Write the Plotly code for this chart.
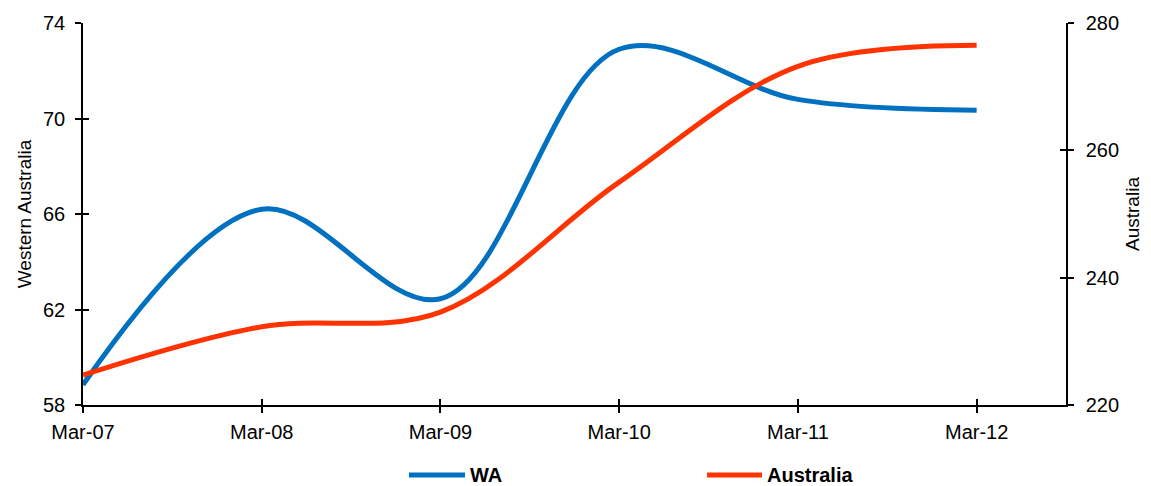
import plotly.graph_objects as go

categories = ["Mar-07", "Mar-08", "Mar-09", "Mar-10", "Mar-11", "Mar-12"]
wa_values = [58.85, 66.2, 62.45, 72.9, 70.8, 70.35]
aus_values = [224.7, 232.3, 234.6, 255.0, 273.2, 276.5]
left_ticks = [58, 62, 66, 70, 74]
right_ticks = [220, 240, 260, 280]
series_names = ["WA", "Australia"]
series_colors = ["#0070C0", "#FF3300"]

x_idx = list(range(len(categories)))
FONT = "Liberation Sans, Arial, sans-serif"

fig = go.Figure()
fig.add_trace(go.Scatter(
    x=x_idx, y=wa_values, name=series_names[0], mode="lines",
    line=dict(color=series_colors[0], width=5, shape="spline", smoothing=1.0),
    yaxis="y",
))
fig.add_trace(go.Scatter(
    x=x_idx, y=aus_values, name=series_names[1], mode="lines",
    line=dict(color=series_colors[1], width=5, shape="spline", smoothing=1.0),
    yaxis="y2",
))

axis_common = dict(showgrid=False, zeroline=False, showline=True, linecolor="black",
                   linewidth=1.5, tickcolor="black", tickwidth=1.5, ticklen=6,
                   tickfont=dict(family=FONT, size=20, color="black"))
inside_common = dict(ticks="inside", showticklabels=False, showgrid=False, zeroline=False,
                     showline=False, tickcolor="black", tickwidth=1.5, ticklen=6)

# Body has an 8px margin in the page, so the figure is sized to fill the remaining window.
fig.update_layout(
    width=1143, height=478,
    margin=dict(l=75, r=85, t=15, b=81, autoexpand=False),
    plot_bgcolor="white", paper_bgcolor="white",
    font=dict(family=FONT, size=20, color="black"),
    showlegend=False,
    xaxis=dict(range=[0, 5.5], tickmode="array", tickvals=x_idx, ticktext=categories,
               ticks="outside", ticklabelstandoff=2, **axis_common),
    xaxis2=dict(range=[0, 5.5], overlaying="x", matches="x", tickmode="array", tickvals=x_idx,
                anchor="y", **inside_common),
    yaxis=dict(range=[58, 74], tickmode="array", tickvals=left_ticks, ticks="outside",
               ticklabelstandoff=6,
               title=dict(text="Western Australia", font=dict(family=FONT, size=19), standoff=6),
               **axis_common),
    yaxis2=dict(range=[220, 280], tickmode="array", tickvals=right_ticks, ticks="outside",
                overlaying="y", side="right", anchor="x", ticklabelstandoff=8,
                title=dict(text="Australia", font=dict(family=FONT, size=19), standoff=8),
                **axis_common),
    yaxis3=dict(range=[58, 74], overlaying="y", matches="y", tickmode="array", tickvals=left_ticks,
                anchor="x", **inside_common),
    yaxis4=dict(range=[220, 280], overlaying="y", side="right", tickmode="array", tickvals=right_ticks,
                anchor="x", **inside_common),
)

# invisible helper traces so overlay tick axes render
fig.add_trace(go.Scatter(x=[None], y=[None], xaxis="x2", yaxis="y", showlegend=False, hoverinfo="skip"))
fig.add_trace(go.Scatter(x=[None], y=[None], xaxis="x", yaxis="y3", showlegend=False, hoverinfo="skip"))
fig.add_trace(go.Scatter(x=[None], y=[None], xaxis="x", yaxis="y4", showlegend=False, hoverinfo="skip"))

# manual legend (paper coordinates)
legend_pos = [(0.3316, 0.3886), (0.6348, 0.6907)]
leg_y = -0.183
for name, color, (x0, x1) in zip(series_names, series_colors, legend_pos):
    fig.add_shape(type="line", xref="paper", yref="paper", x0=x0, x1=x1, y0=leg_y, y1=leg_y,
                  line=dict(color=color, width=5))
    fig.add_annotation(xref="paper", yref="paper", x=x1 + 0.003, y=leg_y, text=name,
                       showarrow=False, xanchor="left", yanchor="middle",
                       font=dict(family=FONT, size=20, color="black", weight="bold"))

fig.write_html("out.html")
